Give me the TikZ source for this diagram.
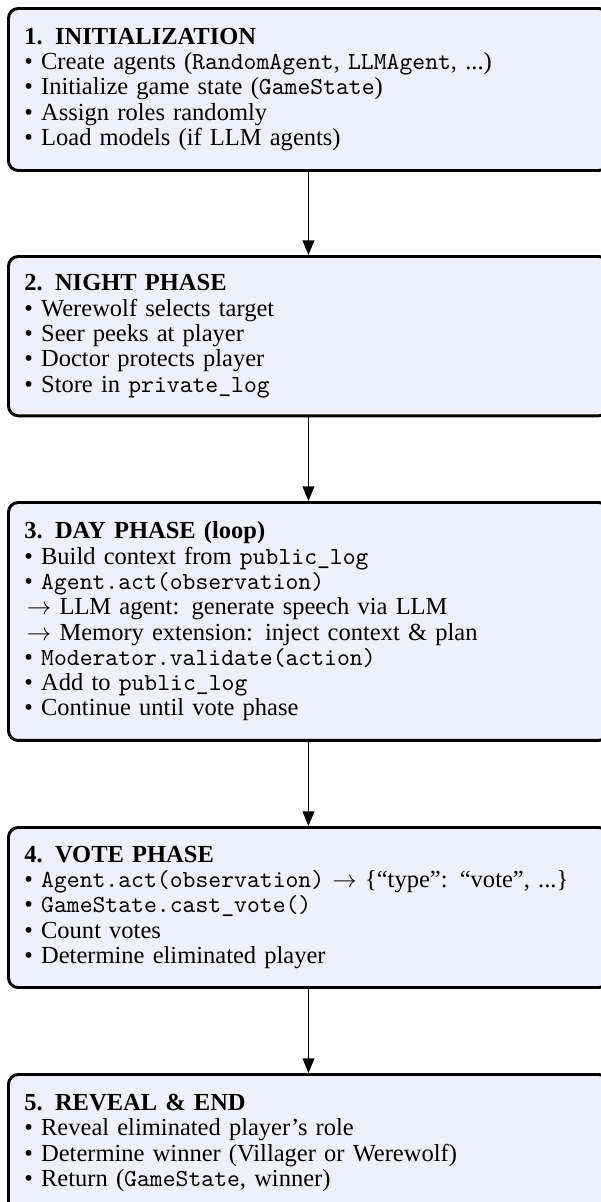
\documentclass[tikz,border=0pt]{standalone}
\usepackage{fontspec}
\setmainfont{Liberation Serif}
\usetikzlibrary{arrows.meta}
\definecolor{boxfill}{RGB}{240,240,252}
\tikzset{
  phasebox/.style={draw=black, fill=boxfill, line width=1.2pt, rounded corners=4pt,
    anchor=north west, align=left, text width=231.8pt, inner xsep=6.5pt, inner ysep=0pt,
    font=\fontsize{10}{10.33}\selectfont},
  flow/.style={line width=0.6pt, -{Triangle[length=6pt,width=4.8pt]}}
}
\newcommand{\bl}{\textbullet\ }
\begin{document}
\begin{tikzpicture}[x=0.408pt,y=-0.408pt]
\useasboundingbox (0,0) rectangle (600,1202);
\node[phasebox, minimum height=66.1pt] (b1) at (7,7) {\textbf{1. INITIALIZATION}\\
\bl Create agents (\texttt{RandomAgent}, \texttt{LLMAgent}, ...)\\
\bl Initialize game state (\texttt{GameState})\\
\bl Assign roles randomly\\
\bl Load models (if LLM agents)};
\node[phasebox, minimum height=65.0pt] (b2) at (7,255) {\textbf{2. NIGHT PHASE}\\
\bl Werewolf selects target\\
\bl Seer peeks at player\\
\bl Doctor protects player\\
\bl Store in \texttt{private\_log}};
\node[phasebox, minimum height=97.1pt] (b3) at (7,501) {\textbf{3. DAY PHASE (loop)}\\
\bl Build context from \texttt{public\_log}\\
\bl \texttt{Agent.act(observation)}\\
\hspace*{1pt}$\rightarrow$ LLM agent: generate speech via LLM\\
\hspace*{1pt}$\rightarrow$ Memory extension: inject context \& plan\\
\bl \texttt{Moderator.validate(action)}\\
\bl Add to \texttt{public\_log}\\
\bl Continue until vote phase};
\node[phasebox, minimum height=65.3pt] (b4) at (7,826) {\textbf{4. VOTE PHASE}\\
\bl \texttt{Agent.act(observation)} $\rightarrow$ \{``type'': ``vote'', ...\}\\
\bl \texttt{GameState.cast\_vote()}\\
\bl Count votes\\
\bl Determine eliminated player};
\node[phasebox, minimum height=56pt] (b5) at (7,1073) {\textbf{5. REVEAL \& END}\\
\bl Reveal eliminated player's role\\
\bl Determine winner (Villager or Werewolf)\\
\bl Return (\texttt{GameState}, winner)};
\draw[flow] (b1.south) -- (b2.north);
\draw[flow] (b2.south) -- (b3.north);
\draw[flow] (b3.south) -- (b4.north);
\draw[flow] (b4.south) -- (b5.north);
\end{tikzpicture}
\end{document}
